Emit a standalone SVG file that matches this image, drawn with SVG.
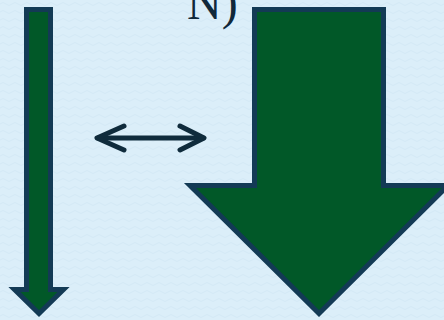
<svg xmlns="http://www.w3.org/2000/svg" width="444" height="320" viewBox="0 0 444 320">
  <defs>
    <pattern id="tex" width="12" height="8" patternUnits="userSpaceOnUse">
      <rect width="12" height="8" fill="#dbeef9"/>
      <path d="M0 4 Q3 1 6 4 T12 4" fill="none" stroke="#d4e9f6" stroke-width="1"/>
    </pattern>
  </defs>
  <style>
    .blk { fill: #015828; stroke: #133a55; stroke-width: 5; stroke-linejoin: miter; stroke-miterlimit: 10; }
    .dbl { fill: none; stroke: #0f2b3c; stroke-width: 5; stroke-linecap: round; stroke-linejoin: round; }
    .lbl { font-family: "Liberation Serif", "Times New Roman", serif; font-size: 48px; fill: #10283a; }
  </style>
  <rect width="444" height="320" fill="url(#tex)"/>
  <g id="label">
    <text class="lbl" x="187" y="19">N)</text>
  </g>
  <g id="thin-arrow">
    <polygon class="blk" points="26.5,9.5 50.5,9.5 50.5,289.5 63.5,289.5 39,313.5 14.5,289.5 26.5,289.5"/>
  </g>
  <g id="big-arrow">
    <polygon class="blk" points="254.5,9.5 383.5,9.5 383.5,185.5 448,185.5 319,313.5 190,185.5 254.5,185.5"/>
  </g>
  <g id="connectors">
    <path class="dbl" d="M98 138 H203"/>
    <path class="dbl" d="M124 126 L97 138 L124 150"/>
    <path class="dbl" d="M180 126 L204 138 L180 150"/>
  </g>
</svg>
